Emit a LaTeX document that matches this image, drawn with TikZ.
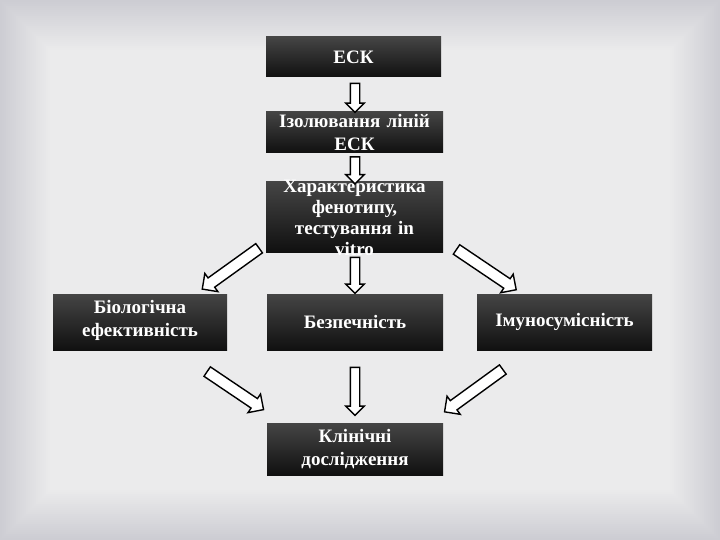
\documentclass[tikz,border=0pt]{standalone}
\usepackage{fontspec}
\setmainfont{Liberation Serif}
\usetikzlibrary{shapes.arrows}
\definecolor{bgA}{HTML}{CDCDD3}
\definecolor{bgE}{HTML}{EBEBEC}
\definecolor{boxtop}{HTML}{454545}
\definecolor{boxbot}{HTML}{101010}
\begin{document}
\begin{tikzpicture}[x=1pt,y=-1pt,
  box/.style={rectangle, draw=none, top color=boxtop, bottom color=boxbot, inner sep=0pt},
  lbl/.style={text=white, font=\bfseries\fontsize{19}{23}\selectfont, align=center, text width=190pt, inner sep=0pt},
  varrow/.style={single arrow, draw=black, fill=white, line width=1.4pt, inner xsep=0pt, inner ysep=4pt,
    single arrow head extend=4.5pt, single arrow head indent=0pt, single arrow tip angle=90, rotate=270},
  darrow/.style={single arrow, draw=black, fill=white, line width=1.4pt, inner xsep=0pt, inner ysep=5pt,
    single arrow head extend=5.5pt, single arrow head indent=0pt, single arrow tip angle=90}]
% background
\foreach \i in {0,...,25} {
  \pgfmathsetmacro{\p}{\i*4}
  \fill[bgE!\p!bgA] (\i*2,\i*2) rectangle (720-\i*2,540-\i*2);
}
\useasboundingbox (0,0) rectangle (720,540);
% boxes
\node[box, minimum width=175pt, minimum height=40pt] (esc) at (353.5,57) {};
\node[box, minimum width=177pt, minimum height=41pt] (iso) at (354.5,132) {};
\node[box, minimum width=177pt, minimum height=70pt] (char) at (354.5,217) {};
\node[box, minimum width=174pt, minimum height=56pt] (bio) at (140,322) {};
\node[box, minimum width=176pt, minimum height=56pt] (safe) at (355,322) {};
\node[box, minimum width=175pt, minimum height=56pt] (imm) at (564.5,322) {};
\node[box, minimum width=176pt, minimum height=52pt] (clin) at (355,449) {};
% labels
\node[lbl] (escT) at (esc.center) {ЕСК};
\node[lbl] (isoT) at ([yshift=-1pt]iso.center) {Ізолювання ліній\\ЕСК};
\node[lbl, font=\bfseries\fontsize{19}{21}\selectfont] (charT) at ([yshift=-1pt]char.center) {Характеристика\\фенотипу,\\тестування in\\vitro};
\node[lbl] (bioT) at ([yshift=2pt]bio.center) {Біологічна\\ефективність};
\node[lbl] (safeT) at (safe.center) {Безпечність};
\node[lbl] (immT) at (imm.center) {Імуносумісність};
\node[lbl] (clinT) at (clin.center) {Клінічні\\дослідження};
% block arrows
\node[varrow, minimum height=29pt] (a1) at (355,95.5) {};
\node[varrow, minimum height=27pt] (a2) at (355,168) {};
\node[varrow, minimum height=36pt] (a3) at (355,273) {};
\node[varrow, minimum height=48pt] (a4) at (355,389) {};
\node[darrow, minimum height=70pt, rotate=215.7] (a5) at (233,267) {};
\node[darrow, minimum height=72pt, rotate=326] (a6) at (484,268) {};
\node[darrow, minimum height=68pt, rotate=326] (a7) at (233,389) {};
\node[darrow, minimum height=72pt, rotate=216] (a8) at (476,389) {};
\end{tikzpicture}
\end{document}
